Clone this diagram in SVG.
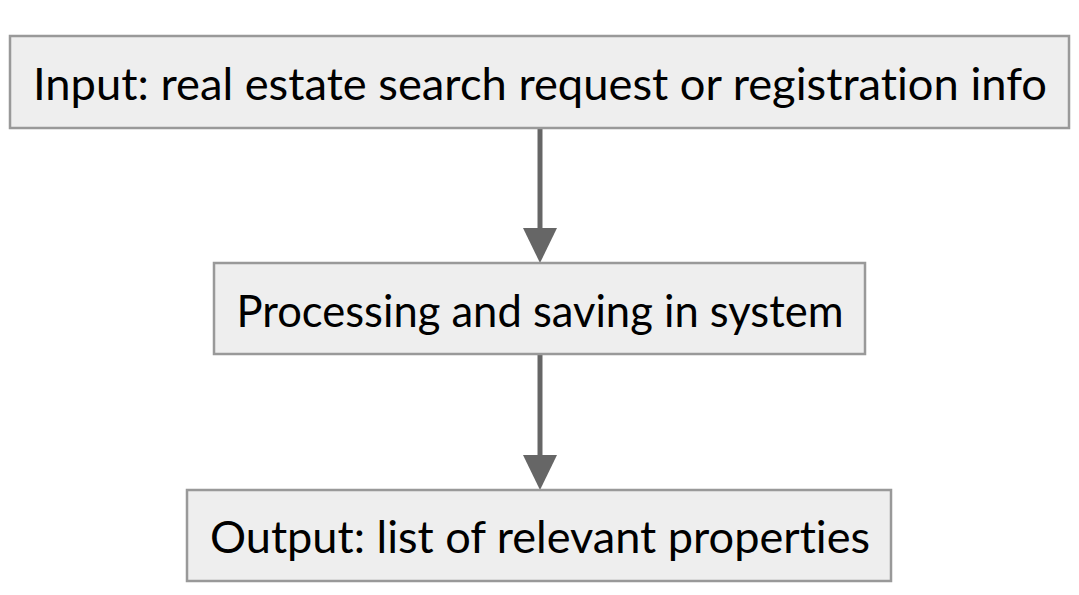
<svg xmlns="http://www.w3.org/2000/svg" width="1079" height="595" viewBox="0 0 1079 595">
<defs>
<style>
.box{fill:#eeeeee;stroke:#999999;stroke-width:2.5}
.lbl{font-family:Lato,"Open Sans","DejaVu Sans",sans-serif;font-size:44px;fill:#000;text-anchor:middle;font-variant-ligatures:none;font-feature-settings:"liga" 0,"clig" 0}
.edge{stroke:#666666;stroke-width:5;fill:none}
.head{fill:#666666}
</style>
</defs>
<rect width="1079" height="595" fill="#ffffff"/>
<g id="edges">
<line class="edge" x1="540" y1="128" x2="540" y2="229"/>
<path class="head" d="M523,228 L557,228 L540,263 Z"/>
<line class="edge" x1="540" y1="355" x2="540" y2="456"/>
<path class="head" d="M523,455 L557,455 L540,490 Z"/>
</g>
<g id="node-input">
<rect class="box" x="10" y="36" width="1059" height="92"/>
<text class="lbl" x="540" y="100" textLength="1014" lengthAdjust="spacingAndGlyphs">Input: real estate search request or registration info</text>
</g>
<g id="node-process">
<rect class="box" x="214" y="263" width="651" height="91"/>
<text class="lbl" x="540" y="327" textLength="607" lengthAdjust="spacingAndGlyphs">Processing and saving in system</text>
</g>
<g id="node-output">
<rect class="box" x="187" y="490" width="704" height="91"/>
<text class="lbl" x="540" y="553" textLength="660" lengthAdjust="spacingAndGlyphs">Output: list of relevant properties</text>
</g>
</svg>
